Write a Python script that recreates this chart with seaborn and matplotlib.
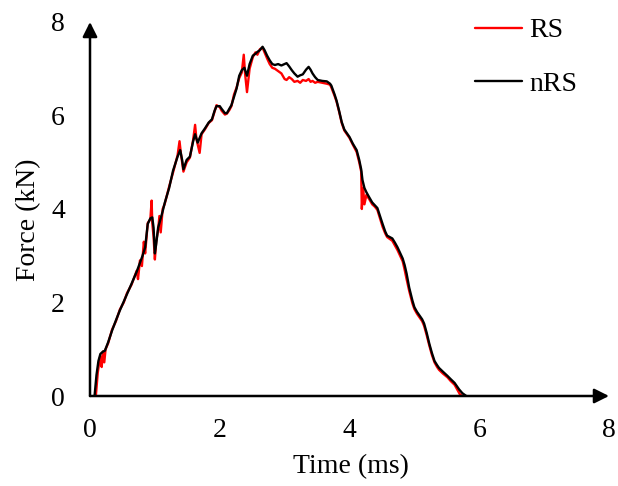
import numpy as np
import pandas as pd
import matplotlib
matplotlib.use("Agg")
import matplotlib.pyplot as plt
import seaborn as sns
from matplotlib.lines import Line2D

# ---- data ----
nrs_time = [0.07, 0.10, 0.13, 0.16, 0.20, 0.23, 0.28, 0.34, 0.40, 0.46, 0.52, 0.57, 0.64, 0.72, 0.77,
            0.81, 0.85, 0.89, 0.93, 0.96, 0.98, 1.00, 1.02, 1.05, 1.08, 1.12, 1.15, 1.22, 1.28, 1.35,
            1.39, 1.42, 1.44, 1.49, 1.54, 1.59, 1.62, 1.66, 1.72, 1.77, 1.83, 1.88, 1.92, 1.95, 2.00,
            2.03, 2.08, 2.11, 2.15, 2.18, 2.22, 2.26, 2.30, 2.34, 2.38, 2.42, 2.46, 2.51, 2.55, 2.58,
            2.62, 2.66, 2.69, 2.73, 2.77, 2.81, 2.85, 2.90, 2.95, 3.00, 3.03, 3.07, 3.11, 3.15, 3.20,
            3.24, 3.28, 3.33, 3.37, 3.40, 3.43, 3.47, 3.51, 3.58, 3.65, 3.70, 3.72, 3.77, 3.80, 3.84,
            3.88, 3.92, 3.96, 4.00, 4.05, 4.11, 4.15, 4.18, 4.20, 4.23, 4.26, 4.30, 4.35, 4.39, 4.43,
            4.47, 4.51, 4.55, 4.58, 4.62, 4.66, 4.70, 4.74, 4.78, 4.82, 4.85, 4.88, 4.92, 4.97, 5.00,
            5.04, 5.08, 5.12, 5.15, 5.19, 5.23, 5.27, 5.31, 5.35, 5.38, 5.44, 5.51, 5.56, 5.62, 5.66,
            5.69, 5.74, 5.80]
nrs_force = [0.00, 0.45, 0.75, 0.90, 0.95, 0.97, 1.15, 1.40, 1.62, 1.83, 2.02, 2.18, 2.40, 2.66, 2.85,
             3.00, 3.18, 3.68, 3.80, 3.82, 3.60, 3.05, 3.25, 3.60, 3.75, 3.95, 4.12, 4.45, 4.82, 5.12,
             5.26, 5.05, 4.85, 5.05, 5.12, 5.45, 5.60, 5.42, 5.62, 5.72, 5.85, 5.92, 6.10, 6.20, 6.20,
             6.14, 6.05, 6.05, 6.15, 6.22, 6.40, 6.58, 6.85, 6.97, 7.02, 6.85, 7.10, 7.28, 7.32, 7.36,
             7.40, 7.47, 7.40, 7.28, 7.18, 7.10, 7.08, 7.10, 7.07, 7.10, 7.12, 7.05, 6.97, 6.90, 6.83,
             6.86, 6.88, 6.98, 7.04, 6.98, 6.90, 6.82, 6.76, 6.74, 6.73, 6.68, 6.64, 6.45, 6.32, 6.10,
             5.86, 5.70, 5.62, 5.54, 5.40, 5.26, 5.05, 4.85, 4.62, 4.45, 4.36, 4.26, 4.14, 4.08, 4.02,
             3.85, 3.68, 3.52, 3.43, 3.40, 3.37, 3.28, 3.18, 3.06, 2.94, 2.80, 2.62, 2.32, 2.04, 1.90,
             1.80, 1.72, 1.64, 1.55, 1.35, 1.12, 0.92, 0.75, 0.66, 0.60, 0.52, 0.43, 0.36, 0.28, 0.20,
             0.14, 0.06, 0.00]

rs_time = [0.09, 0.12, 0.15, 0.16, 0.18, 0.20, 0.22, 0.24, 0.28, 0.34, 0.40, 0.46, 0.52, 0.57, 0.64,
           0.72, 0.74, 0.77, 0.80, 0.83, 0.85, 0.89, 0.93, 0.95, 0.96, 0.98, 1.00, 1.02, 1.05, 1.07,
           1.09, 1.12, 1.15, 1.22, 1.28, 1.35, 1.38, 1.40, 1.42, 1.44, 1.49, 1.54, 1.59, 1.62, 1.64,
           1.66, 1.69, 1.72, 1.77, 1.83, 1.88, 1.92, 1.95, 2.00, 2.03, 2.08, 2.11, 2.15, 2.18, 2.22,
           2.26, 2.30, 2.34, 2.37, 2.39, 2.42, 2.46, 2.51, 2.55, 2.58, 2.62, 2.66, 2.69, 2.73, 2.77,
           2.81, 2.85, 2.90, 2.95, 3.00, 3.03, 3.07, 3.11, 3.15, 3.20, 3.24, 3.28, 3.33, 3.37, 3.40,
           3.43, 3.47, 3.51, 3.58, 3.65, 3.70, 3.72, 3.77, 3.80, 3.84, 3.88, 3.92, 3.96, 4.00, 4.05,
           4.11, 4.15, 4.18, 4.19, 4.21, 4.23, 4.26, 4.30, 4.35, 4.39, 4.43, 4.47, 4.51, 4.55, 4.58,
           4.62, 4.66, 4.70, 4.74, 4.78, 4.82, 4.85, 4.88, 4.92, 4.97, 5.00, 5.04, 5.08, 5.12, 5.15,
           5.19, 5.23, 5.27, 5.31, 5.35, 5.38, 5.44, 5.51, 5.56, 5.62, 5.66, 5.70, 5.74]
rs_force = [0.00, 0.50, 0.80, 0.85, 0.62, 0.95, 0.72, 1.00, 1.13, 1.42, 1.60, 1.85, 2.00, 2.20, 2.38,
            2.68, 2.50, 2.90, 2.78, 3.30, 3.05, 3.70, 3.78, 4.18, 3.70, 3.40, 2.92, 3.30, 3.55, 3.85,
            3.50, 4.00, 4.10, 4.48, 4.78, 5.15, 5.45, 5.20, 5.00, 4.80, 5.00, 5.10, 5.48, 5.80, 5.50,
            5.38, 5.20, 5.60, 5.70, 5.84, 5.90, 6.08, 6.22, 6.18, 6.10, 6.02, 6.04, 6.12, 6.20, 6.45,
            6.60, 6.80, 6.92, 7.30, 6.90, 6.50, 7.00, 7.25, 7.35, 7.30, 7.42, 7.45, 7.35, 7.22, 7.10,
            7.02, 7.00, 6.95, 6.90, 6.78, 6.76, 6.82, 6.78, 6.72, 6.74, 6.70, 6.76, 6.74, 6.78, 6.72,
            6.74, 6.70, 6.72, 6.70, 6.68, 6.66, 6.60, 6.42, 6.30, 6.08, 5.84, 5.68, 5.60, 5.52, 5.38,
            5.22, 5.00, 4.80, 4.00, 4.45, 4.10, 4.30, 4.22, 4.10, 4.05, 3.98, 3.80, 3.62, 3.48, 3.40,
            3.36, 3.32, 3.22, 3.12, 3.00, 2.88, 2.70, 2.50, 2.25, 1.98, 1.86, 1.76, 1.68, 1.60, 1.50,
            1.30, 1.08, 0.88, 0.72, 0.62, 0.56, 0.48, 0.40, 0.32, 0.24, 0.14, 0.04, 0.00]

series_names = ["RS", "nRS"]
series_colors = ["#ff0000", "#000000"]
x_ticks = [0, 2, 4, 6, 8]
y_ticks = [0, 2, 4, 6, 8]
x_label = "Time (ms)"
y_label = "Force (kN)"

df = pd.concat([
    pd.DataFrame({"Time": rs_time, "Force": rs_force, "series": "RS"}),
    pd.DataFrame({"Time": nrs_time, "Force": nrs_force, "series": "nRS"}),
], ignore_index=True)

sns.set_theme(style="white")
plt.rcParams["font.family"] = ["Liberation Serif", "DejaVu Serif"]
plt.rcParams["text.color"] = "black"

W, H = 618, 486
fig = plt.figure(figsize=(W / 100, H / 100), dpi=100)
ax = fig.add_axes([90 / W, 90 / H, 519 / W, 374 / H])

sns.lineplot(data=df, x="Time", y="Force", hue="series", hue_order=series_names,
             palette=dict(zip(series_names, series_colors)), estimator=None, sort=False,
             linewidth=1.7, ax=ax, legend=False)

ax.set_xlim(0, 8)
ax.set_ylim(0, 8)
ax.set_xticks(x_ticks)
ax.set_yticks(y_ticks)
ax.set_xticklabels([str(v) for v in x_ticks], fontsize=20, color="black")
ax.set_yticklabels([str(v) for v in y_ticks], fontsize=20, color="black")
ax.tick_params(axis="both", length=0, colors="black", labelcolor="black")
ax.tick_params(axis="x", pad=16)
ax.tick_params(axis="y", pad=18)
ax.set_xlabel("")
ax.set_ylabel("")
for s in ax.spines.values():
    s.set_visible(False)
ax.grid(False)

# axes drawn as arrows
arrow_kw = dict(arrowstyle="-|>", color="black", lw=1.8, mutation_scale=22,
                shrinkA=0, shrinkB=0)
ax.annotate("", xy=(8, 0), xytext=(0, 0), arrowprops=arrow_kw, annotation_clip=False)
ax.annotate("", xy=(0, 8), xytext=(0, 0), arrowprops=arrow_kw, annotation_clip=False)

fig.text(351 / W, 1 - 467 / H, x_label, fontsize=20, ha="center", va="center", color="black")
fig.text(29 / W, 1 - 220 / H, y_label, fontsize=20, ha="center", va="center", rotation=90,
         color="black")

handles = [Line2D([], [], color=c, lw=1.7) for c in series_colors]
leg = fig.legend(handles, series_names, loc="upper left", bbox_to_anchor=(475 / W, 1 - 18 / H),
                 frameon=False, fontsize=20, handlelength=1.7, handletextpad=0.25,
                 borderpad=0, borderaxespad=0, labelspacing=1.02)
for t in leg.get_texts():
    t.set_color("black")

fig.savefig("out.png", dpi=100)
